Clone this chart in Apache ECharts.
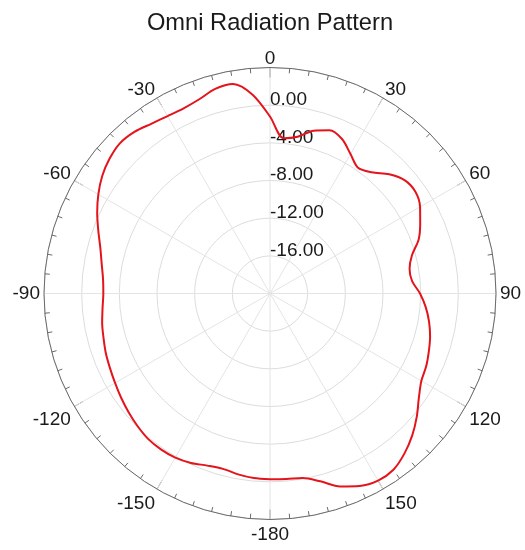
<!DOCTYPE html>
<html><head><meta charset="utf-8">
<script src="https://cdn.jsdelivr.net/npm/echarts@6/dist/echarts.min.js"></script>
<style>html,body{margin:0;padding:0;background:#fff}#c{width:525px;height:550px}</style>
</head><body><div id="c"></div>
<script>
// Angle in degrees (0 = top, clockwise), gain in dB
const angles = [-180,-175,-170,-165,-160,-155,-150,-145,-140,-135,-130,-125,-120,-115,-110,-105,-100,-95,-90,-85,-80,-75,-70,-65,-60,-55,-50,-45,-40,-35,-30,-25,-20,-15,-10,-5,0,5,10,15,20,25,30,35,40,45,50,55,60,65,70,75,80,85,90,95,100,105,110,115,120,125,130,135,140,145,150,155,160,165,170,175,180];
const gainDb = [-0.27,-0.33,-0.5,-0.72,-0.55,-0.15,0.12,0.2,0.15,-0.1,-0.4,-0.7,-1.0,-1.25,-1.45,-1.7,-1.9,-2.15,-2.3,-2.2,-1.85,-1.35,-0.6,0.25,1.05,1.75,2.25,2.55,2.4,2.0,1.75,1.7,1.95,2.5,2.6,1.2,-1.2,-3.45,-3.1,-2.1,-1.55,-1.9,-2.9,-3.7,-3.2,-2.1,-1.3,-1.15,-1.6,-2.4,-3.2,-4.4,-4.95,-4.85,-4.07,-3.4,-2.85,-2.4,-2.05,-1.7,-1.44,-0.7,0.35,1.35,2.2,2.85,2.95,2.55,1.8,0.65,-0.1,-0.22,-0.27];
const radiusLabels = [-16, -12, -8, -4, 0];
const titleText = 'Omni Radiation Pattern';

const chart = echarts.init(document.getElementById('c'));
const data = angles.map((a, i) => [gainDb[i], a < 0 ? a + 360 : a]);
chart.setOption({
  animation: false,
  title: {
    text: titleText, left: 265, top: 6, textAlign: 'center',
    textStyle: { fontFamily: 'Liberation Sans', fontSize: 23.7, fontWeight: 'normal', color: '#1a1a1a' }
  },
  polar: { center: [270, 293.5], radius: 226 },
  angleAxis: {
    type: 'value', min: 0, max: 360, interval: 30, startAngle: 90, clockwise: true,
    axisLine: { show: true, lineStyle: { color: '#6a6a6a', width: 1 } },
    axisTick: { show: true, inside: true, length: 10, lineStyle: { color: '#6a6a6a' } },
    minorTick: { show: true, splitNumber: 6, length: 5, lineStyle: { color: '#6a6a6a' } },
    axisLabel: {
      margin: 4, padding: [2, 0, -5, 0], fontFamily: 'Liberation Sans', fontSize: 19, color: '#1a1a1a',
      formatter: v => { if (v >= 360) return ''; if (v >= 180) return String(v - 360); return String(v); }
    },
    splitLine: { show: true, lineStyle: { color: '#e4e4e4', width: 1 } }
  },
  radiusAxis: {
    type: 'value', min: -20, max: 4, interval: 4,
    axisLine: { show: false }, axisTick: { show: false },
    axisLabel: {
      margin: 0, align: 'left', verticalAlign: 'bottom', padding: [0, 0, -4, 0],
      fontFamily: 'Liberation Sans', fontSize: 19, color: '#1a1a1a',
      formatter: v => radiusLabels.indexOf(v) >= 0 ? v.toFixed(2) : ''
    },
    splitLine: { show: true, lineStyle: { color: '#dcdcdc', width: 1 } }
  },
  series: [{
    type: 'line', coordinateSystem: 'polar', data: data,
    showSymbol: false, smooth: 0.3,
    lineStyle: { color: '#e3141b', width: 2 }
  }]
});
</script></body></html>
